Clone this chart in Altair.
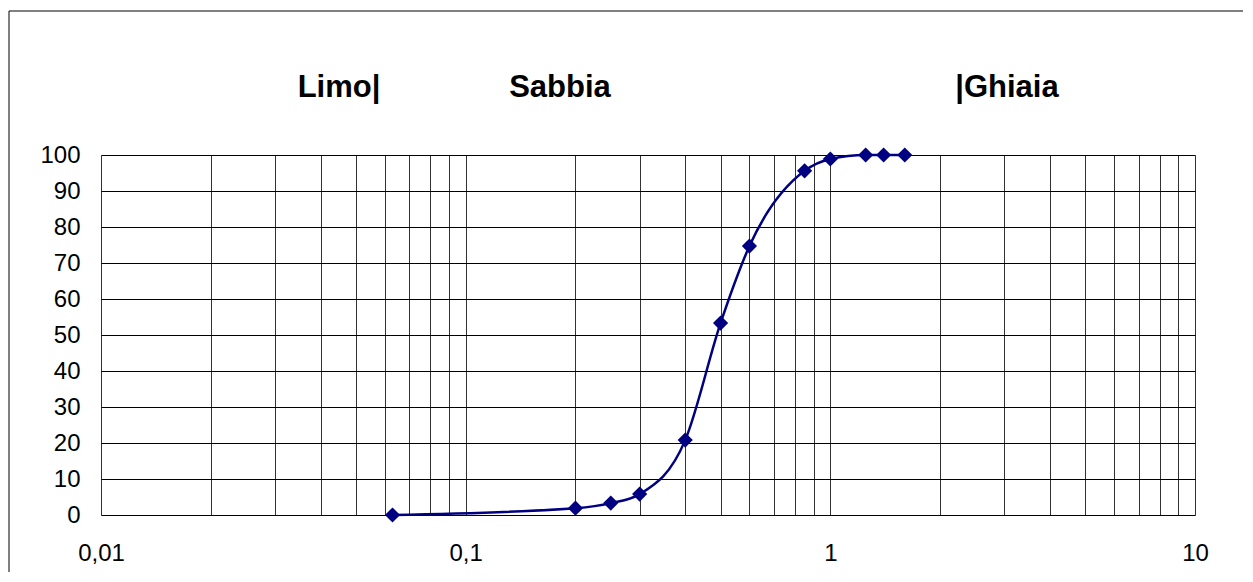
import altair as alt
import pandas as pd

# Grain-size curve data (diameter in mm, percent passing)
diam = [0.063, 0.2, 0.25, 0.3, 0.4, 0.5, 0.6, 0.85, 1.0, 1.25, 1.4, 1.6]
passing = [0, 1.9, 3.3, 5.8, 20.8, 53.3, 74.7, 95.6, 98.9, 100, 100, 100]

x_label_values = [0.01, 0.1, 1, 10]
y_tick_values = [0, 10, 20, 30, 40, 50, 60, 70, 80, 90, 100]
x_grid_values = [round(k * 10 ** e, 6) for e in (-2, -1, 0) for k in range(1, 10)] + [10]
region_labels = ["Limo|", "Sabbia", "|Ghiaia"]

df = pd.DataFrame({"d": diam, "p": passing})

W, H = 1094, 360
FONT = "Liberation Sans"

xscale = alt.Scale(type="log", domain=[0.01, 10], nice=False)
yscale = alt.Scale(domain=[0, 100], nice=False)

label_expr = (
    "indexof(" + str(x_label_values) + ", datum.value) >= 0 ? "
    "replace(format(datum.value, ''), '.', ',') : ''"
)

xaxis = alt.Axis(
    values=x_grid_values, labelExpr=label_expr, title=None, grid=True,
    gridColor="#333333", gridWidth=1, gridOpacity=1, ticks=False, tickSize=0,
    domain=False, labelFontSize=24, labelPadding=26, labelFont=FONT,
    labelColor="black", labelOverlap=False, labelFlush=False,
)
yaxis = alt.Axis(
    values=y_tick_values, title=None, grid=True, gridColor="black", gridWidth=1,
    gridOpacity=1, ticks=False, tickSize=0, domain=False, labelFontSize=24,
    labelPadding=21, labelFont=FONT, labelColor="black", labelOverlap=False,
    labelFlush=False,
)

base = alt.Chart(df).encode(
    x=alt.X("d:Q", scale=xscale, axis=xaxis),
    y=alt.Y("p:Q", scale=yscale, axis=yaxis),
)

line = base.mark_line(color="#000080", strokeWidth=2.5, interpolate="monotone")
points = base.mark_point(shape="diamond", filled=True, size=230, color="#000080", opacity=1)

frame = alt.Chart(pd.DataFrame({"f": [0]})).mark_rect(
    filled=False, stroke="black", strokeWidth=1
).encode(
    x=alt.value(-92), x2=alt.value(1400), y=alt.value(-144), y2=alt.value(700)
)

label_x = [238, 459, 906]
texts = []
for name, px in zip(region_labels, label_x):
    texts.append(
        alt.Chart(pd.DataFrame({"t": [name]})).mark_text(
            font=FONT, fontSize=31, fontWeight="bold", color="black",
            align="center", baseline="middle",
        ).encode(text="t:N", x=alt.value(px), y=alt.value(-67))
    )

chart = alt.layer(frame, line, points, *texts).properties(
    width=W, height=H,
    autosize=alt.AutoSizeParams(type="none"),
    padding={"left": 93, "top": 147, "right": 48, "bottom": 57},
).configure_view(
    stroke="#808080", strokeWidth=2
).configure(background="white")

chart.save("out.html", embed_options={"renderer": "svg", "actions": False})
